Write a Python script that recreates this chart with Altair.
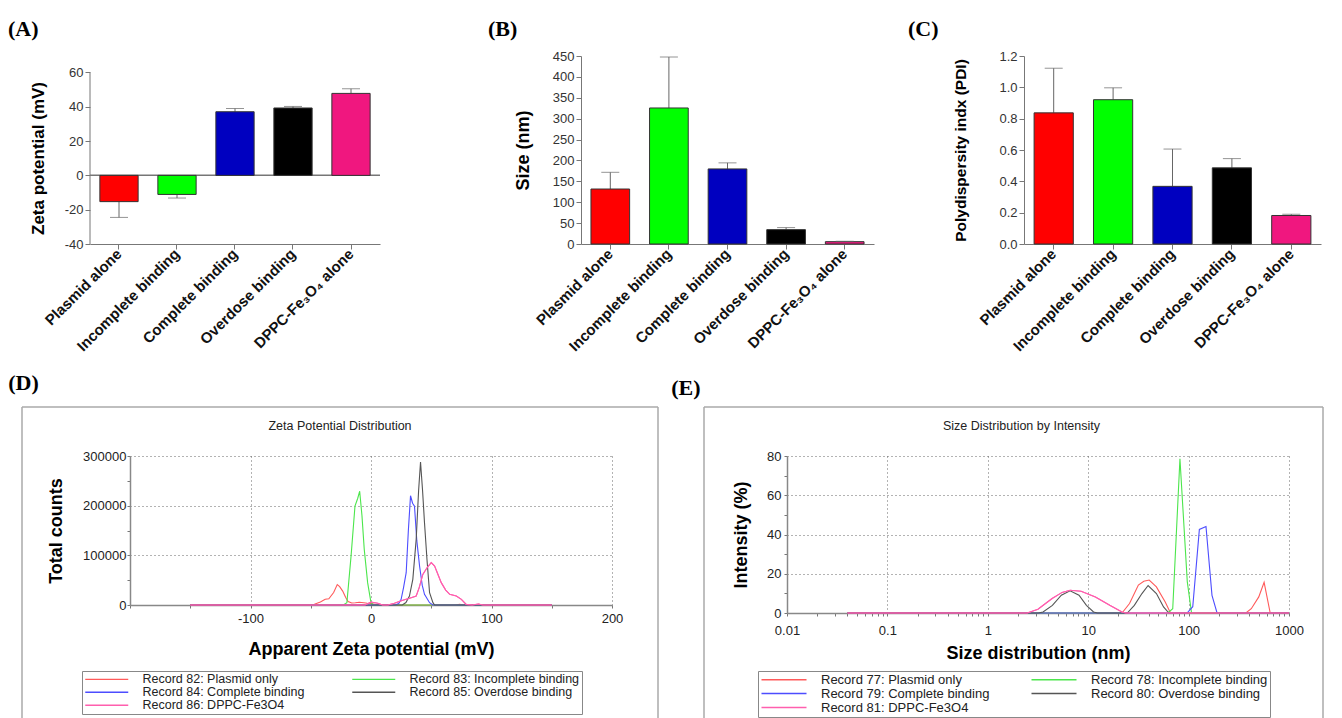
import altair as alt
import pandas as pd

SANS = "Liberation Sans, Arial, Helvetica, sans-serif"
SERIF = "Liberation Serif, Times New Roman, serif"

# ---------------- panels A-C : bar charts ----------------
categories = ["Plasmid alone", "Incomplete binding", "Complete binding",
              "Overdose binding", "DPPC-Fe\u2083O\u2084 alone"]
bar_colors = ["#ff0000", "#00ff00", "#0000c0", "#000000", "#f0177f"]

zeta_mean = [-15.3, -11.1, 37.1, 39.3, 47.8]
zeta_err_end = [-24.5, -13.2, 39.0, 40.2, 50.5]
size_mean = [131.6, 325.6, 179.7, 34.4, 5.6]
size_err_end = [171.6, 447.6, 194.2, 39.3, 6.5]
pdi_mean = [0.837, 0.921, 0.368, 0.486, 0.182]
pdi_err_end = [1.122, 0.997, 0.606, 0.545, 0.19]

zeta_ticks = [-40, -20, 0, 20, 40, 60]
size_ticks = [0, 50, 100, 150, 200, 250, 300, 350, 400, 450]
pdi_ticks = [0.0, 0.2, 0.4, 0.6, 0.8, 1.0, 1.2]

# ---------------- panel D : zeta potential distribution ----------------
zeta_records = ["Record 82: Plasmid only", "Record 83: Incomplete binding",
                "Record 84: Complete binding", "Record 85: Overdose binding",
                "Record 86: DPPC-Fe3O4"]
line_colors = ["#ff5a5a", "#4ce64c", "#4d4dff", "#555555", "#ff5fae"]
# legend fills column by column: this order gives rows 82|83, 84|85, 86
legend_order = [0, 2, 4, 1, 3]

zp_plasmid_mv = [-150, -50, -47, -42, -38, -35, -31, -28, -26, -23.5, -21, -19, -16, -13,
                 -9.7, -6, -3, 0, 3, 8, 70, 73.5, 77, 86, 89.5, 93, 150]
zp_plasmid_counts = [0, 0, 1500, 6000, 11500, 12500, 25000, 41000, 37000, 28000, 15000, 7000,
                     4000, 4500, 5500, 4500, 3500, 3000, 1500, 0, 0, 1500, 0, 0, 1500, 0, 0]
zp_incomplete_mv = [-150, -23, -20, -16.5, -13.3, -11, -9.4, -7.5, -5.6, -2.8, 0, 2, 150]
zp_incomplete_counts = [0, 0, 4700, 100000, 199000, 215000, 229000, 180000, 112000, 45000,
                        4700, 0, 0]
zp_complete_mv = [-150, 20, 23, 25, 27, 29.2, 31, 32.8, 34.5, 36.1, 38, 40.3, 42.5, 44.4,
                  48.6, 51.4, 150]
zp_complete_counts = [0, 0, 3000, 11400, 35000, 65000, 150000, 220000, 205000, 199000,
                      130000, 78500, 40000, 21500, 4700, 0, 0]
zp_overdose_mv = [-150, 26, 29, 31.9, 34.7, 37.5, 39.5, 41.1, 42.8, 44.4, 46.5, 48.6, 51.4,
                  52.8, 150]
zp_overdose_counts = [0, 0, 5000, 18100, 51700, 132200, 230000, 287900, 230000, 165700,
                      90000, 24800, 4700, 0, 0]
zp_dppc_mv = [-150, -5, 0, 5.6, 9.7, 14, 19.4, 26.4, 33.3, 37.5, 40, 43, 46.5, 50, 52.8,
              55.5, 58.3, 62, 65.3, 70.8, 75, 79, 84, 89, 93, 150]
zp_dppc_counts = [0, 0, 6000, 3400, 0, 0, 3400, 9400, 14800, 18100, 35000, 61700, 75000,
                  85200, 78500, 62000, 45000, 30000, 21500, 18100, 11400, 1300, 0, 2000, 0, 0]

# ---------------- panel E : size distribution by intensity ----------------
size_records = ["Record 77: Plasmid only", "Record 78: Incomplete binding",
                "Record 79: Complete binding", "Record 80: Overdose binding",
                "Record 81: DPPC-Fe3O4"]

sd_plasmid_nm = [0.04, 21.7, 25.8, 31.6, 35.8, 40.5, 47.8, 58.5, 66, 372, 421, 500, 565, 650, 1000]
sd_plasmid_int = [0, 0, 4.8, 14.2, 16.2, 16.8, 13.3, 5.6, 0, 0, 2.2, 8.2, 15.6, 0, 0]
sd_incomplete_nm = [0.04, 62, 69.5, 82, 97, 107, 1000]
sd_incomplete_int = [0, 0, 2.2, 78.6, 16, 0, 0]
sd_complete_nm = [0.04, 96.5, 110, 128, 149, 171, 192, 1000]
sd_complete_int = [0, 0, 3.2, 42.6, 44.1, 9, 0, 0]
sd_overdose_nm = [0.04, 3.2, 3.55, 4.4, 5.4, 6.6, 8.1, 9.6, 11.3, 12.4, 24.5, 28.8, 34.3,
                  39.5, 47.8, 56.3, 63.6, 1000]
sd_overdose_int = [0, 0, 0.5, 3.9, 9.1, 11.3, 9.1, 3.9, 0.5, 0, 0, 3.9, 9.9, 14, 9.9, 3.1, 0, 0]
sd_dppc_nm = [0.04, 2.47, 3.16, 4.37, 5.5, 6.6, 8.5, 11.8, 16.4, 21.7, 23.7, 1000]
sd_dppc_int = [0, 0, 1.9, 7.4, 10.5, 11.6, 11.1, 8.2, 3.9, 0.5, 0, 0]

log_ticks = [k * 10.0 ** e for e in range(-2, 3) for k in range(1, 10)] + [1000.0]


def long_df(names, xs_list, ys_list):
    rows = []
    for name, xs, ys in zip(names, xs_list, ys_list):
        for i, (xv, yv) in enumerate(zip(xs, ys)):
            rows.append({"rec": name, "x": xv, "y": yv, "i": i})
    return pd.DataFrame(rows)


def letter_title(text, dx, offset, frame="group"):
    return alt.Title(text, anchor="start", frame=frame, dx=dx, offset=offset, font=SERIF,
                     fontSize=22, fontWeight="bold", color="#000")


def bar_panel(letter, mean, err_end, ytitle, ydomain, yticks, label_expr, width,
              title_dx, title_offset, title_pad, title_size, axis_rule=None,
              zero_rule=False, title_y=None):
    df = pd.DataFrame({"cat": categories, "mean": mean, "err_end": err_end,
                       "z": [0.0] * len(categories)})
    xscale = alt.Scale(domain=categories, paddingInner=0.34, paddingOuter=0.17)
    yscale = alt.Scale(domain=ydomain, nice=False)
    x_axis = alt.Axis(title=None, labelAngle=-45, labelAlign="right", labelBaseline="middle",
                      labelFont=SANS, labelFontSize=15, labelFontWeight="bold",
                      labelColor="#111", labelLimit=400, labelPadding=2, tickSize=5,
                      tickColor="#777", domainColor="#777", labelOverlap=False)
    yax = dict(title=ytitle, values=yticks, labelExpr=label_expr, grid=False,
               labelFont=SANS, labelFontSize=13, labelColor="#333", labelPadding=2,
               tickSize=5, tickColor="#777", domainColor="#777", labelOverlap=False,
               titleFont=SANS, titleFontSize=title_size, titleFontWeight="bold",
               titleColor="#000", titlePadding=title_pad)
    if axis_rule is not None:
        yax["domain"] = False
    if title_y is not None:
        yax["titleY"] = title_y
    y_axis = alt.Axis(**yax)
    base = alt.Chart(df).encode(
        x=alt.X("cat:N", scale=xscale, sort=categories, axis=x_axis))
    bars = base.mark_bar(stroke="#333", strokeWidth=1).encode(
        y=alt.Y("mean:Q", scale=yscale, axis=y_axis),
        color=alt.Color("cat:N", scale=alt.Scale(domain=categories, range=bar_colors),
                        legend=None))
    errs = base.mark_rule(color="#666").encode(
        y=alt.Y("mean:Q", scale=yscale, axis=y_axis), y2="err_end:Q")
    caps = base.mark_tick(color="#666", thickness=1, size=18).encode(
        y=alt.Y("err_end:Q", scale=yscale, axis=y_axis))
    layers = []
    if zero_rule:
        layers.append(alt.Chart(df).mark_rule(color="#777").encode(
            y=alt.Y("z:Q", scale=yscale, axis=y_axis)))
    if axis_rule is not None:
        adf = pd.DataFrame({"lo": [axis_rule[0]], "hi": [axis_rule[1]]})
        layers.append(alt.Chart(adf).mark_rule(color="#777").encode(
            x=alt.value(0), y=alt.Y("lo:Q", scale=yscale, axis=y_axis), y2="hi:Q"))
    layers += [errs, bars, caps]
    return alt.layer(*layers).properties(
        width=width, height=188, title=letter_title(letter, title_dx, title_offset))


def frame_layers(left, right, top, bottom):
    c = alt.Chart(pd.DataFrame({"k": [0]}))
    st = dict(color="#aaaaaa", strokeWidth=1.5)
    return [
        c.mark_rule(**st).encode(x=alt.value(left), y=alt.value(top), y2=alt.value(bottom)),
        c.mark_rule(**st).encode(x=alt.value(left), x2=alt.value(right), y=alt.value(top)),
        c.mark_rule(**st).encode(x=alt.value(right), y=alt.value(top), y2=alt.value(bottom)),
    ]


def dist_axis(title, values, label_test, label_expr, grid_test, title_pad, label_pad):
    return alt.Axis(
        title=title, values=values,
        labelExpr=f"({label_test}) ? {label_expr} : ''",
        grid=True, gridDash=[1, 3], gridColor="#666",
        gridOpacity={"condition": {"test": grid_test, "value": 1}, "value": 0},
        tickSize=3, tickColor="#777", domainColor="#888", domainWidth=1.5,
        labelFont=SANS, labelFontSize=13, labelColor="#222", labelPadding=label_pad,
        labelOverlap=False, labelFlush=False,
        titleFont=SANS, titleFontSize=18, titleFontWeight="bold", titleColor="#000",
        titlePadding=title_pad)


def dist_legend(lx, ly, path, font_size, label_offset, col_pad):
    return alt.Legend(title=None, orient="none", legendX=lx, legendY=ly, columns=2,
                      strokeColor="#888", padding=2, symbolType=path, symbolSize=100,
                      symbolStrokeWidth=1.3, labelFont=SANS, labelFontSize=font_size,
                      labelColor="#222", labelOffset=label_offset, columnPadding=col_pad,
                      rowPadding=0, labelLimit=400)


def color_scale(records):
    return alt.Scale(domain=[records[k] for k in legend_order],
                     range=[line_colors[k] for k in legend_order])


def line_layers(df, records, xenc, yenc, legend):
    enc = dict(x=xenc, y=yenc,
               color=alt.Color("rec:N", scale=color_scale(records), legend=legend),
               order=alt.Order("i:Q"))
    all_lines = alt.Chart(df).mark_line(strokeWidth=1.1).encode(**enc)
    # the last record is drawn again on top, as in the instrument plot
    top_line = alt.Chart(df).mark_line(strokeWidth=1.1).encode(**enc).transform_filter(
        alt.datum.rec == records[-1])
    return [all_lines, top_line]


# ---- D ----
zeta_df = long_df(zeta_records,
                  [zp_plasmid_mv, zp_incomplete_mv, zp_complete_mv, zp_overdose_mv, zp_dppc_mv],
                  [zp_plasmid_counts, zp_incomplete_counts, zp_complete_counts,
                   zp_overdose_counts, zp_dppc_counts])
d_xaxis = dist_axis("Apparent Zeta potential (mV)", list(range(-200, 201, 50)),
                    "datum.value % 100 === 0 && datum.value > -200", "'' + datum.value",
                    "datum.value % 100 === 0 && datum.value > -200", 15, 4)
d_yaxis = dist_axis("Total counts", list(range(0, 300001, 50000)),
                    "datum.value % 100000 === 0", "'' + datum.value",
                    "datum.value % 100000 === 0 && datum.value > 0", 17, 1)
d_layers = line_layers(
    zeta_df, zeta_records,
    alt.X("x:Q", scale=alt.Scale(domain=[-200, 200], nice=False, zero=False), axis=d_xaxis),
    alt.Y("y:Q", scale=alt.Scale(domain=[0, 300000], nice=False), axis=d_yaxis),
    dist_legend(-48, 215, "M-1,0H7.6", 12.5, 46, 44))
D_inner = alt.layer(*frame_layers(-108, 528, -49, 275), *d_layers).properties(
    width=482, height=149,
    title=alt.Title("Zeta Potential Distribution", anchor="middle", frame="bounds",
                    offset=-26, font=SANS, fontSize=12.5, fontWeight="normal", color="#222"))
D = alt.vconcat(D_inner, title=letter_title("(D)", -13, 11, frame="bounds"))

# ---- E ----
size_df = long_df(size_records,
                  [sd_plasmid_nm, sd_incomplete_nm, sd_complete_nm, sd_overdose_nm, sd_dppc_nm],
                  [sd_plasmid_int, sd_incomplete_int, sd_complete_int, sd_overdose_int,
                   sd_dppc_int])
decade = "abs(log(datum.value)/LN10 - round(log(datum.value)/LN10)) < 0.001"
e_xaxis = dist_axis("Size distribution (nm)", log_ticks, decade, "format(datum.value, '~g')",
                    decade + " && datum.value > 0.011", 7, 8)
e_yaxis = dist_axis("Intensity (%)", list(range(0, 81, 10)),
                    "datum.value % 20 === 0", "'' + datum.value",
                    "datum.value % 20 === 0 && datum.value > 0", 16, 3)
e_layers = line_layers(
    size_df, size_records,
    alt.X("x:Q", scale=alt.Scale(type="log", domain=[0.01, 1000], nice=False), axis=e_xaxis),
    alt.Y("y:Q", scale=alt.Scale(domain=[0, 80], nice=False), axis=e_yaxis),
    dist_legend(-29, 215, "M-1,0H8", 13, 48, 38))
E_inner = alt.layer(*frame_layers(-83, 536, -49, 275), *e_layers).properties(
    width=502, height=157,
    title=alt.Title("Size Distribution by Intensity", anchor="middle", frame="bounds",
                    dx=8, offset=-26, font=SANS, fontSize=12.5, fontWeight="normal",
                    color="#222"))
E = alt.vconcat(E_inner, title=letter_title("(E)", -32, 6, frame="bounds"))

# ---- A, B, C ----
A = bar_panel("(A)", zeta_mean, zeta_err_end, "Zeta potential (mV)", [-40, 69.6], zeta_ticks,
              "'' + datum.value", 290, -82, 15, 17, 17, axis_rule=(-40, 60),
              zero_rule=True, title_y=102)
B = bar_panel("(B)", size_mean, size_err_end, "Size (nm)", [0, 450], size_ticks,
              "'' + datum.value", 293, -93, 9, 20, 18)
C = bar_panel("(C)", pdi_mean, pdi_err_end, "Polydispersity indx (PDI)", [0, 1.2], pdi_ticks,
              "format(datum.value, '.1f')", 297, -116, 9, 30, 15.5)

spacer = alt.Chart(pd.DataFrame({"k": [0]})).mark_rule(opacity=0).encode(
    x=alt.value(0), y=alt.value(0), y2=alt.value(1)).properties(width=1, height=1)


def indep(c):
    return c.resolve_scale(color="independent").resolve_legend(color="independent")


row1 = indep(alt.hconcat(indep(alt.hconcat(A, B, spacing=107)), C, spacing=34))
row2 = indep(alt.hconcat(indep(alt.hconcat(spacer, D, spacing=-83)), E, spacing=12))

chart = indep(alt.vconcat(row1, row2, spacing=18)).properties(
    padding={"left": 0, "top": 10, "right": 0, "bottom": 0}, background="white"
).configure_view(stroke=None)

chart.save("out.html", embed_options={"renderer": "svg", "actions": False})
